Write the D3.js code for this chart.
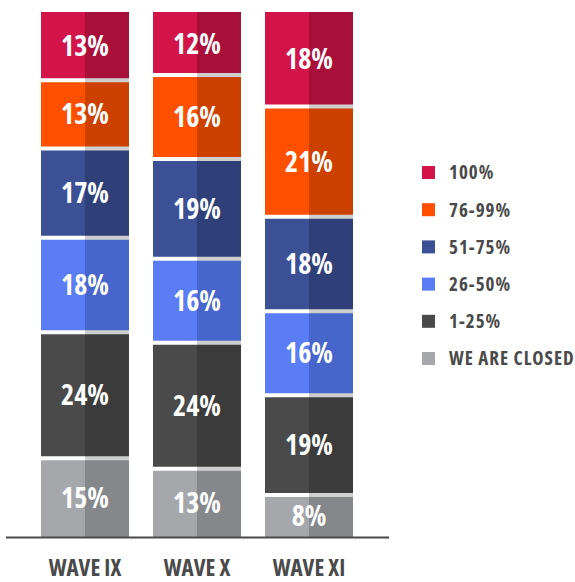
<!DOCTYPE html>
<html>
<head>
<meta charset="utf-8">
<script src="https://cdn.jsdelivr.net/npm/d3@7"></script>
<style>
  body { margin: 0; background: #fff; }
  text { font-family: "Open Sans", sans-serif; font-weight: bold; font-stretch: 75%; }
  .legend text { letter-spacing: 1px; }
</style>
</head>
<body>
<div id="chart"></div>
<script>
// categories, bottom to top
var waves = ["WAVE IX", "WAVE X", "WAVE XI"];
var bands = ["WE ARE CLOSED", "1-25%", "26-50%", "51-75%", "76-99%", "100%"];
var pctClosed = [15, 13, 8];
var pct1_25 = [24, 24, 19];
var pct26_50 = [18, 16, 16];
var pct51_75 = [17, 19, 18];
var pct76_99 = [13, 16, 21];
var pct100  = [13, 12, 18];
var lightCols = ["#a6a7ab", "#4a4a4a", "#5a7df6", "#3c5096", "#ff5000", "#d2144a"];
var darkCols  = ["#86878b", "#3b3b3b", "#4766cc", "#2f3f78", "#cc4000", "#a80f3a"];

var series = [pctClosed, pct1_25, pct26_50, pct51_75, pct76_99, pct100];
var rows = waves.map(function (w, i) {
  var o = { wave: w };
  bands.forEach(function (b, k) { o[b] = series[k][i]; });
  return o;
});

var W = 575, H = 582;
var svg = d3.select("#chart").append("svg").attr("width", W).attr("height", H);

var x = d3.scaleBand().domain(waves).range([29, 365]).paddingInner(0.2143).paddingOuter(0.1071);
var y = d3.scaleLinear().domain([0, 100]).range([537, 12]);

var stack = d3.stack().keys(bands)(rows);
var gap = 4;

var layers = svg.append("g").selectAll("g.layer")
  .data(stack).enter().append("g").attr("class", "layer");

layers.each(function (layer, k) {
  var g = d3.select(this);
  layer.forEach(function (d) {
    var x0 = x(d.data.wave), bw = x.bandwidth();
    var top = y(d[1]), bot = y(d[0]);
    g.append("rect").attr("x", x0).attr("y", top).attr("width", bw / 2).attr("height", bot - top).attr("fill", lightCols[k]);
    g.append("rect").attr("x", x0 + bw / 2).attr("y", top).attr("width", bw / 2).attr("height", bot - top).attr("fill", darkCols[k]);
  });
});

// separators between segments
stack.slice(0, -1).forEach(function (layer) {
  layer.forEach(function (d) {
    var x0 = x(d.data.wave), bw = x.bandwidth(), yy = y(d[1]);
    svg.append("rect").attr("x", x0).attr("y", yy - gap / 2).attr("width", bw / 2).attr("height", gap).attr("fill", "#ffffff");
    svg.append("rect").attr("x", x0 + bw / 2).attr("y", yy - gap / 2).attr("width", bw / 2).attr("height", gap).attr("fill", "#cfcfcf");
  });
});

// value labels
stack.forEach(function (layer, k) {
  layer.forEach(function (d) {
    svg.append("text")
      .attr("x", x(d.data.wave) + x.bandwidth() / 2)
      .attr("y", (y(d[0]) + y(d[1])) / 2)
      .attr("dy", "0.36em")
      .attr("text-anchor", "middle")
      .attr("fill", "#fff")
      .style("font-size", "28px")
      .text(d[1] - d[0] + "%");
  });
});

// baseline
svg.append("line").attr("x1", 6).attr("x2", 389).attr("y1", 537.5).attr("y2", 537.5)
  .attr("stroke", "#4a4a4a").attr("stroke-width", 2);

// x labels
var xAxis = svg.append("g").attr("transform", "translate(0,537)")
  .call(d3.axisBottom(x).tickSize(0).tickPadding(23));
xAxis.select(".domain").remove();
xAxis.attr("font-family", null).attr("font-size", null);
xAxis.selectAll("text").attr("fill", "#4a4a4a").style("font-size", "23px");

// legend (top to bottom)
var legendItems = bands.map(function (b, k) { return { name: b, col: lightCols[k] }; }).reverse();
var ly = d3.scalePoint().domain(legendItems.map(function (d) { return d.name; })).range([172.5, 358.5]);
var leg = svg.append("g").attr("class", "legend").selectAll("g").data(legendItems).enter().append("g")
  .attr("transform", function (d) { return "translate(422," + ly(d.name) + ")"; });
leg.append("rect").attr("x", 0).attr("y", -6.5).attr("width", 13).attr("height", 13)
  .attr("fill", function (d) { return d.col; });
leg.append("text").attr("x", 27).attr("dy", "0.36em").attr("fill", "#4a4a4a")
  .style("font-size", "19px").text(function (d) { return d.name; });
</script>
</body>
</html>
